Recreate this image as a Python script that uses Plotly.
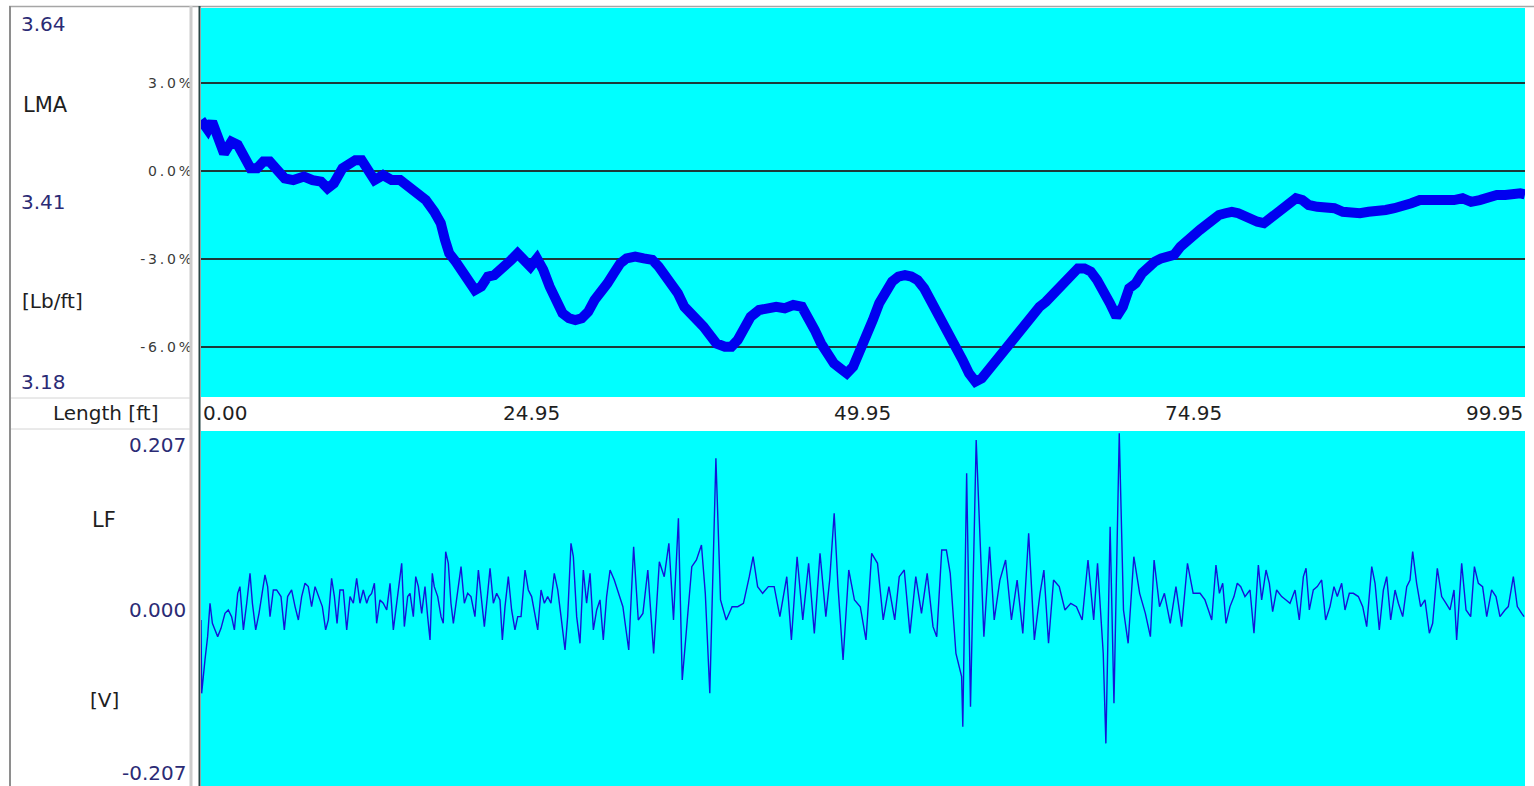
import plotly.graph_objects as go

# ---------------- data ----------------
# Top panel: LMA deviation [%] vs length [ft]
lma_len = [0.00, 0.52, 0.84, 1.32, 1.74, 2.29, 2.77, 3.26, 3.74, 4.23, 4.71, 5.19, 5.68, 6.32, 6.97,
           7.77, 8.42, 9.06, 9.55, 10.03, 10.68, 11.16, 11.65, 12.13, 12.61, 13.10, 13.74, 14.39,
           15.03, 15.68, 16.32, 16.97, 17.61, 18.10, 18.42, 18.74, 19.23, 19.71, 20.19, 20.68,
           21.16, 21.65, 22.13, 22.78, 23.42, 23.90, 24.39, 24.87, 25.36, 25.84, 26.32, 26.81,
           27.29, 27.78, 28.26, 28.74, 29.23, 29.71, 30.20, 30.68, 31.16, 31.65, 32.13, 32.78,
           33.42, 34.07, 34.55, 35.03, 35.52, 36.00, 36.49, 36.97, 37.45, 37.94, 38.42, 38.91,
           39.55, 40.04, 40.52, 41.00, 41.49, 42.13, 42.78, 43.42, 44.07, 44.71, 45.36, 45.84,
           46.33, 46.81, 47.29, 47.78, 48.26, 48.75, 49.23, 49.71,
           50.23, 50.72, 51.20, 51.69, 52.17, 52.65, 53.14, 53.62, 54.10, 54.59, 55.07, 55.56,
           56.04, 56.52, 57.01, 57.49, 57.98, 58.46, 58.94, 59.43, 59.91, 60.40, 60.88, 61.36,
           61.85, 62.33, 62.82, 63.30, 63.78, 64.27, 64.75, 65.23, 65.72, 66.20, 66.69, 67.17,
           67.65, 68.14, 68.62, 69.11, 69.59, 70.07, 70.56, 71.04, 71.53, 72.01, 72.49, 72.98,
           73.46, 73.94, 74.43, 74.91, 75.40, 75.88, 76.36, 76.85, 77.33, 77.82, 78.30, 78.78,
           79.27, 79.75, 80.24, 80.72, 81.20, 81.69, 82.17, 82.66, 83.14, 83.62, 84.27, 84.91,
           85.56, 86.20, 86.85, 87.49, 88.14, 88.79, 89.43, 90.08, 90.72, 91.37, 92.01, 92.66,
           93.30, 93.95, 94.59, 95.24, 95.88, 96.53, 97.17, 97.82, 98.46, 99.11, 99.59, 99.95]
lma_pct = [1.74, 1.40, 1.68, 1.17, 0.60, 1.00, 0.89, 0.49, 0.09, 0.09, 0.32, 0.32, 0.03, -0.25, -0.31,
           -0.19, -0.31, -0.36, -0.59, -0.42, 0.09, 0.20, 0.37, 0.37, 0.03, -0.31, -0.14, -0.31,
           -0.31, -0.53, -0.70, -0.99, -1.39, -1.78, -2.35, -2.81, -3.09, -3.37, -3.72, -4.06,
           -3.94, -3.60, -3.55, -3.32, -3.03, -2.81, -3.09, -3.26, -2.98, -3.37, -3.94, -4.40,
           -4.85, -5.02, -5.08, -5.02, -4.80, -4.40, -4.17, -3.83, -3.49, -3.15, -2.98, -2.92,
           -2.98, -3.03, -3.26, -3.55, -3.83, -4.17, -4.63, -4.91, -5.08, -5.31, -5.59, -5.88,
           -5.99, -5.99, -5.76, -5.31, -4.97, -4.74, -4.68, -4.63, -4.68, -4.57, -4.63, -4.97,
           -5.42, -5.88, -6.22, -6.56, -6.73, -6.90, -6.67, -6.22,
           -5.65, -5.08, -4.51, -4.06, -3.77, -3.60, -3.55, -3.60, -3.72, -4.00, -4.40, -4.80,
           -5.14, -5.48, -5.88, -6.44, -6.90, -7.18, -7.07, -6.78, -6.56, -6.33, -6.05, -5.76,
           -5.36, -5.08, -4.85, -4.63, -4.46, -4.23, -3.94, -3.66, -3.43, -3.32, -3.32, -3.43,
           -3.72, -4.06, -4.51, -4.97, -4.63, -4.00, -3.83, -3.49, -3.26, -3.09, -2.98, -2.92,
           -2.86, -2.58, -2.35, -2.18, -2.01, -1.84, -1.67, -1.50, -1.44, -1.39, -1.44, -1.56,
           -1.67, -1.73, -1.78, -1.61, -1.50, -1.27, -1.10, -0.93, -0.99, -1.16, -1.22, -1.22,
           -1.27, -1.39, -1.44, -1.44, -1.39, -1.39, -1.33, -1.27, -1.22, -1.10, -0.99, -0.99,
           -1.05, -1.05, -0.99, -0.93, -1.05, -0.99, -0.88, -0.82, -0.82, -0.76, -0.76, -0.80]

# Bottom panel: LF signal [V] vs length [ft]
lf_len = [0.00, 0.05, 0.30, 0.50, 0.68, 0.86, 1.06, 1.26, 1.51, 1.81, 2.06, 2.31, 2.52, 2.77, 2.94,
          3.20, 3.45, 3.70, 3.88, 4.13, 4.38, 4.58, 4.83, 5.03, 5.21, 5.46, 5.71, 6.04, 6.29, 6.54,
          6.84, 7.10, 7.35, 7.60, 7.85, 8.10, 8.35, 8.61, 8.91, 9.16, 9.41, 9.61, 9.86, 10.07,
          10.27, 10.49, 10.74, 11.00, 11.25, 11.50, 11.75, 12.00, 12.25, 12.51, 12.68, 12.88,
          13.09, 13.26, 13.51, 13.76, 14.02, 14.27, 14.52, 14.77, 14.95, 15.15, 15.35, 15.60,
          15.78, 16.03, 16.21, 16.41, 16.66, 16.91, 17.11, 17.29, 17.46, 17.61, 17.87, 18.12,
          18.29, 18.47, 18.67, 18.87, 19.05, 19.30, 19.63, 19.88, 20.13, 20.38, 20.68, 20.94,
          21.19, 21.39, 21.64, 21.82, 22.07, 22.32, 22.57, 22.75, 22.95, 23.20, 23.45, 23.70,
          23.91, 24.16, 24.46, 24.71, 24.96, 25.16, 25.42, 25.67, 25.92, 26.17, 26.42, 26.67,
          26.93, 27.18, 27.48, 27.68, 27.93, 28.11, 28.36, 28.61, 28.86, 29.11, 29.37, 29.62,
          29.87, 30.12, 30.37, 30.62, 30.88, 31.20,
          31.57, 31.85, 32.29, 32.66, 33.01, 33.36, 33.73, 34.17, 34.60, 34.97, 35.32, 35.67,
          36.04, 36.33, 36.71, 37.05, 37.40, 37.78, 38.07, 38.41, 38.87, 39.22, 39.65, 40.09,
          40.52, 40.95, 41.39, 41.68, 42.02, 42.40, 42.83, 43.27, 43.70, 44.22, 44.57, 45.00,
          45.43, 45.87, 46.30, 46.73, 47.17, 47.46, 47.80, 48.09, 48.47, 48.90, 49.33, 49.77,
          50.20, 50.63, 51.07, 51.50, 51.93, 52.37, 52.71, 53.09, 53.52, 53.96, 54.39, 54.82,
          55.26, 55.54, 55.92, 56.27, 56.56, 56.99, 57.42, 57.51, 57.80, 58.09, 58.52, 58.81,
          59.10, 59.53, 59.88, 60.31, 60.74, 61.18, 61.61, 62.04, 62.48, 62.91, 63.34, 63.63,
          63.98, 64.36, 64.79, 65.22, 65.66, 66.09, 66.52, 66.96, 67.39, 67.68, 68.11, 68.31,
          68.63, 68.92, 69.32, 69.64, 69.99, 70.42, 70.86, 71.29, 71.67, 71.95, 72.36, 72.73,
          73.17, 73.60, 74.03, 74.47, 74.90, 75.42,
          75.79, 76.05, 76.30, 76.62, 76.88, 77.13, 77.38, 77.68, 77.98, 78.23, 78.49, 78.81,
          79.19, 79.49, 79.82, 80.07, 80.40, 80.65, 80.90, 81.20, 81.58, 81.91, 82.21, 82.59,
          82.91, 83.22, 83.42, 83.67, 83.97, 84.27, 84.60, 84.90, 85.23, 85.53, 85.78, 86.11,
          86.36, 86.69, 86.99, 87.37, 87.70, 88.00, 88.38, 88.63, 88.95, 89.26, 89.51, 89.81,
          90.14, 90.39, 90.72, 91.02, 91.27, 91.47, 91.77, 92.07, 92.40, 92.73, 92.98, 93.33,
          93.66, 93.99, 94.29, 94.59, 94.79, 95.17, 95.50, 95.85, 96.13, 96.43, 96.75, 97.06,
          97.43, 97.76, 98.06, 98.44, 98.69, 99.07, 99.37, 99.70, 99.88]
lf_volt = [-0.0134, -0.0989, -0.0600, -0.0328, 0.0061, -0.0173, -0.0250, -0.0328, -0.0231, -0.0056,
           -0.0017, -0.0095, -0.0250, 0.0177, 0.0255, -0.0250, 0.0061, 0.0410, 0.0061, -0.0250,
           -0.0056, 0.0139, 0.0391, 0.0255, -0.0095, 0.0216, 0.0216, 0.0139, -0.0250, 0.0139,
           0.0216, 0.0022, -0.0134, 0.0139, 0.0294, 0.0255, 0.0022, 0.0255, 0.0139, 0.0022,
           -0.0250, -0.0134, 0.0352, 0.0139, -0.0173, 0.0216, 0.0216, -0.0250, 0.0139, 0.0061,
           0.0352, 0.0061, 0.0216, 0.0061, 0.0139, 0.0177, 0.0294, -0.0173, 0.0100, 0.0061,
           -0.0017, 0.0294, -0.0250, 0.0061, 0.0216, 0.0527, -0.0211, 0.0139, 0.0177, -0.0095,
           0.0372, 0.0255, -0.0056, 0.0255, -0.0095, -0.0367, 0.0410, 0.0255, 0.0139, -0.0095,
           -0.0173, 0.0663, 0.0527, 0.0061, -0.0173, 0.0139, 0.0488, 0.0061, 0.0177, 0.0139,
           -0.0095, 0.0449, 0.0061, -0.0211, 0.0177, 0.0469, 0.0061, 0.0177, 0.0100, -0.0367,
           0.0022, 0.0372, -0.0017, -0.0250, -0.0095, -0.0095, 0.0449, 0.0216, 0.0139, -0.0017,
           -0.0250, 0.0216, 0.0061, 0.0139, 0.0061, 0.0410, 0.0216, -0.0095, -0.0484, -0.0095,
           0.0760, 0.0605, -0.0095, -0.0406, 0.0449, 0.0061, 0.0410, -0.0250, -0.0017, 0.0100,
           -0.0367, 0.0139, 0.0449, 0.0333,
           0.0138, 0.0021, -0.0484, 0.0721, -0.0134, -0.0057, 0.0449, -0.0523, 0.0546, 0.0371,
           0.0760, -0.0134, 0.1052, -0.0834, -0.0134, 0.0488, 0.0566, 0.0741, 0.0177, -0.0989,
           0.1751, 0.0099, -0.0134, 0.0021, 0.0021, 0.0060, 0.0371, 0.0604, 0.0255, 0.0177,
           0.0255, 0.0255, -0.0095, 0.0371, -0.0367, 0.0604, -0.0134, 0.0527, -0.0290, 0.0643,
           -0.0095, 0.0332, 0.1110, 0.0255, -0.0600, 0.0449, 0.0099, 0.0021, -0.0367, 0.0643,
           0.0527, -0.0134, 0.0255, -0.0134, 0.0371, 0.0449, -0.0290, 0.0371, -0.0057, 0.0410,
           -0.0212, -0.0329, 0.0682, 0.0682, 0.0410, -0.0523, -0.0795, -0.1378, 0.1576, -0.1145,
           0.1965, 0.0915, -0.0329, 0.0721, -0.0134, 0.0332, 0.0566, -0.0134, 0.0332, -0.0290,
           0.0877, -0.0367, 0.0177, 0.0449, -0.0406, 0.0332, 0.0255, -0.0018, 0.0060, 0.0021,
           -0.0134, 0.0566, -0.0134, 0.0527, -0.0523, -0.1573, 0.0954, -0.1106, 0.2043, -0.0018,
           -0.0406, 0.0604, 0.0177, -0.0057, -0.0329, 0.0566, 0.0021, 0.0177, -0.0173, 0.0255,
           -0.0212, 0.0527, 0.0177, 0.0177,
           0.0100, -0.0017, -0.0134, 0.0507, 0.0177, 0.0294, -0.0173, 0.0022, 0.0139, 0.0294,
           0.0255, 0.0139, 0.0216, -0.0289, 0.0507, 0.0100, 0.0449, 0.0294, -0.0036, 0.0216,
           0.0139, 0.0100, 0.0061, 0.0216, -0.0134, 0.0372, 0.0469, -0.0017, 0.0216, 0.0255,
           0.0333, -0.0134, 0.0022, 0.0255, 0.0139, 0.0294, -0.0017, 0.0177, 0.0177, 0.0139,
           0.0022, -0.0211, 0.0488, 0.0294, -0.0250, 0.0216, 0.0372, -0.0134, 0.0216, 0.0061,
           -0.0095, 0.0255, 0.0333, 0.0663, 0.0294, 0.0022, 0.0100, -0.0289, -0.0173, 0.0469,
           0.0139, 0.0061, -0.0017, 0.0216, -0.0367, 0.0527, -0.0017, -0.0095, 0.0488, 0.0294,
           0.0255, -0.0095, 0.0216, 0.0139, -0.0095, -0.0017, 0.0022, 0.0372, 0.0022, -0.0056,
           -0.0095]

x_tick_vals = [0.00, 24.95, 49.95, 74.95, 99.95]
x_tick_text = ["0.00", "24.95", "49.95", "74.95", "99.95"]
lma_grid_vals = [-6.0, -3.0, 0.0, 3.0]
lma_grid_text = ["-6.0%", "-3.0%", "0.0%", "3.0%"]
lma_scale_text = ["3.64", "3.41", "3.18"]
lf_scale_text = ["0.207", "0.000", "-0.207"]

# ---------------- layout helpers ----------------
W, H = 1534, 786
def px(x):
    return x / W
def py(y):
    return 1 - y / H

X0, X1 = 201, 1525
TOP0, TOP1 = 8, 397
BOT0, BOT1 = 431, 786
CYAN = "#00ffff"
NAVY = "#2b2b75"
TXT = "#1e1e1e"
FONT = "DejaVu Sans"

def spaced(s):
    return "\u2009".join(list(s))

fig = go.Figure()
fig.add_trace(go.Scatter(x=lma_len, y=lma_pct, mode="lines",
                         line=dict(color="#0000f0", width=10), xaxis="x", yaxis="y",
                         hoverinfo="skip", showlegend=False))
fig.add_trace(go.Scatter(x=lf_len, y=lf_volt, mode="lines",
                         line=dict(color="#1414d8", width=1.4), xaxis="x2", yaxis="y2",
                         hoverinfo="skip", showlegend=False))

axis_common = dict(range=[0, 99.95], showticklabels=False, showgrid=False, zeroline=False,
                   showline=False, ticks="", fixedrange=True, domain=[px(X0), px(X1)])

fig.update_layout(
    width=W, height=H,
    margin=dict(l=0, r=0, t=0, b=0),
    paper_bgcolor="white",
    plot_bgcolor=CYAN,
    showlegend=False,
    hovermode=False,
    xaxis=dict(anchor="y", **axis_common),
    xaxis2=dict(anchor="y2", **axis_common),
    yaxis=dict(domain=[py(TOP1), py(TOP0)], range=[-7.705, 5.557], anchor="x",
               tickvals=lma_grid_vals, ticktext=[spaced(t) for t in lma_grid_text],
               showgrid=True, gridcolor="#1c3a3a", gridwidth=1.6, zeroline=False,
               showline=False, ticks="", ticklabelstandoff=8, fixedrange=True,
               tickfont=dict(family=FONT, size=14, color="#3a3a3a")),
    yaxis2=dict(domain=[py(BOT1), py(BOT0)], range=[-0.207, 0.207], anchor="x2",
                showticklabels=False, showgrid=False, zeroline=False, showline=False,
                ticks="", fixedrange=True),
)

# ---------------- frame lines ----------------
def hline(y, x0, x1, color, width):
    fig.add_shape(type="line", xref="paper", yref="paper", x0=px(x0), x1=px(x1),
                  y0=py(y), y1=py(y), line=dict(color=color, width=width), layer="above")

def vline(x, y0, y1, color, width):
    fig.add_shape(type="line", xref="paper", yref="paper", x0=px(x), x1=px(x),
                  y0=py(y0), y1=py(y1), line=dict(color=color, width=width), layer="above")

hline(6.5, 9, W, "#a6a6a6", 1.5)
vline(10, 6, H, "#8e8e8e", 2)
vline(191, 6, H, "#cccccc", 3)
vline(199.5, 6, H, "#2a4646", 2)
hline(398, 11, 190, "#d4d4d4", 1)
hline(429, 11, 190, "#d4d4d4", 1)

# ---------------- texts ----------------
def note(text, x, y, anchor="left", color=TXT, size=20):
    fig.add_annotation(text=text, xref="paper", yref="paper", x=px(x), y=py(y),
                       xanchor=anchor, yanchor="middle", showarrow=False,
                       font=dict(family=FONT, size=size, color=color))

note(lma_scale_text[0], 19, 24, color=NAVY)
note("LMA", 21, 105, size=21)
note(lma_scale_text[1], 19, 202, color=NAVY)
note("[Lb/ft]", 20, 301)
note(lma_scale_text[2], 19, 382, color=NAVY)
note("Length [ft]", 105, 413, anchor="center")
note(lf_scale_text[0], 188, 445, anchor="right", color=NAVY)
note("LF", 104, 520, anchor="center", size=21)
note(lf_scale_text[1], 188, 610, anchor="right", color=NAVY)
note("[V]", 104, 700, anchor="center")
note(lf_scale_text[2], 188, 773, anchor="right", color=NAVY)

for i, (v, t) in enumerate(zip(x_tick_vals, x_tick_text)):
    anchor = "left" if i == 0 else ("right" if i == len(x_tick_vals) - 1 else "center")
    fig.add_annotation(text=t, xref="x", yref="paper", x=v, y=py(413),
                       xanchor=anchor, yanchor="middle", showarrow=False,
                       font=dict(family=FONT, size=20, color=TXT))

# the page body has a default 8px margin; remove it so the figure sits at the window origin
fig.write_html("out.html", config={"displayModeBar": False, "staticPlot": True},
               post_script="document.body.style.margin='0';document.body.style.overflow='hidden';")
